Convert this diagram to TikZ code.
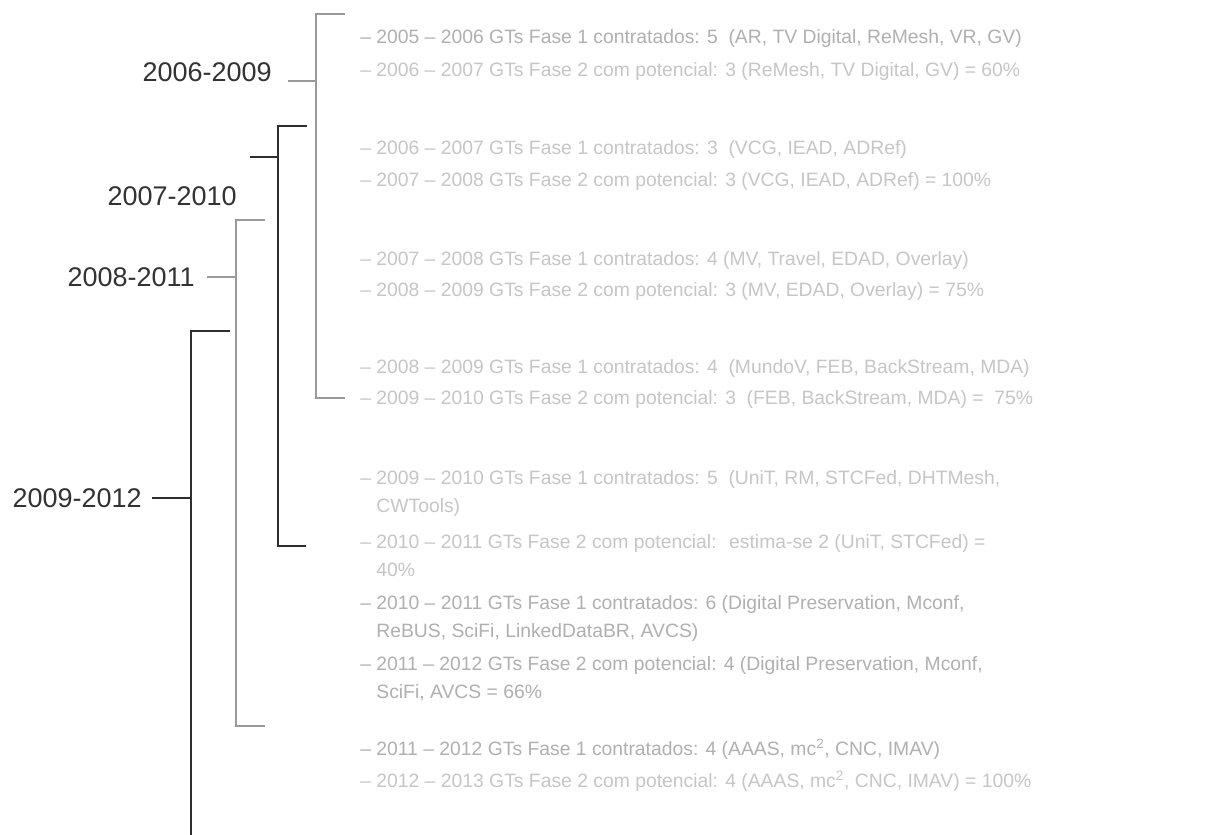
\documentclass[tikz,border=0pt]{standalone}
\usepackage{fontspec}
\setmainfont{Liberation Sans}
\definecolor{txt}{HTML}{C6C6C6}
\definecolor{txtd}{HTML}{B0B0B0}
\definecolor{lbl}{HTML}{333333}
\definecolor{brgray}{HTML}{9A9A9A}
\definecolor{brdark}{HTML}{2E2E2E}
\begin{document}
\begin{tikzpicture}[x=0.75pt,y=-0.75pt,
  item/.style={anchor=west, inner sep=0pt, text=txt, font=\fontsize{14.5}{21}\selectfont, align=left},
  itemd/.style={item, text=txtd},
  period/.style={anchor=east, inner sep=0pt, text=lbl, font=\fontsize{20.25}{24}\selectfont},
  brlight/.style={draw=brgray, line width=0.8pt},
  brdk/.style={draw=brdark, line width=1pt}]
\useasboundingbox[fill=white] (0,0) rectangle (1211,835);
\newcommand{\ind}{\phantom{\textendash\ }}

% text items
\node[itemd] (t1) at (360,39) {\textendash\ 2005 \textendash\ 2006 GTs Fase 1 contratados: 5 \ (AR, TV Digital, ReMesh, VR, GV)};
\node[item] (t2) at (360,72) {\textendash\ 2006 \textendash\ 2007 GTs Fase 2 com potencial: 3 (ReMesh, TV Digital, GV) = 60\%};
\node[item] (t3) at (360,149) {\textendash\ 2006 \textendash\ 2007 GTs Fase 1 contratados: 3 \ (VCG, IEAD, ADRef)};
\node[item] (t4) at (360,181) {\textendash\ 2007 \textendash\ 2008 GTs Fase 2 com potencial: 3 (VCG, IEAD, ADRef) = 100\%};
\node[item] (t5) at (360,260) {\textendash\ 2007 \textendash\ 2008 GTs Fase 1 contratados: 4 (MV, Travel, EDAD, Overlay)};
\node[item] (t6) at (360,291) {\textendash\ 2008 \textendash\ 2009 GTs Fase 2 com potencial: 3 (MV, EDAD, Overlay) = 75\%};
\node[item] (t7) at (360,368) {\textendash\ 2008 \textendash\ 2009 GTs Fase 1 contratados: 4 \ (MundoV, FEB, BackStream, MDA)};
\node[item] (t8) at (360,399) {\textendash\ 2009 \textendash\ 2010 GTs Fase 2 com potencial: 3 \ (FEB, BackStream, MDA) = \ 75\%};
\node[item] (t9) at (360,493) {\textendash\ 2009 \textendash\ 2010 GTs Fase 1 contratados: 5 \ (UniT, RM, STCFed, DHTMesh,\\\ind CWTools)};
\node[item] (t10) at (360,556) {\textendash\ 2010 \textendash\ 2011 GTs Fase 2 com potencial: \ estima-se 2 (UniT, STCFed) =\\\ind 40\%};
\node[itemd] (t11) at (360,618) {\textendash\ 2010 \textendash\ 2011 GTs Fase 1 contratados: 6 (Digital Preservation, Mconf,\\\ind ReBUS, SciFi, LinkedDataBR, AVCS)};
\node[itemd] (t12) at (360,679) {\textendash\ 2011 \textendash\ 2012 GTs Fase 2 com potencial: 4 (Digital Preservation, Mconf,\\\ind SciFi, AVCS = 66\%};
\node[itemd] (t13) at (360,749) {\textendash\ 2011 \textendash\ 2012 GTs Fase 1 contratados: 4 (AAAS, mc\textsuperscript{2}, CNC, IMAV)};
\node[item] (t14) at (360,781) {\textendash\ 2012 \textendash\ 2013 GTs Fase 2 com potencial: 4 (AAAS, mc\textsuperscript{2}, CNC, IMAV) = 100\%};

% period labels
\node[period] (p1) at (272,72) {2006-2009};
\node[period] (p2) at (237,196) {2007-2010};
\node[period] (p3) at (195,277) {2008-2011};
\node[period] (p4) at (142,498) {2009-2012};

% bracket coordinates
\coordinate (b1a) at (345,14);  \coordinate (b1b) at (316,14);
\coordinate (b1c) at (316,398); \coordinate (b1d) at (345,398);
\coordinate (c1) at (288,81);   \coordinate (j1) at (316,81);

\coordinate (b2a) at (307,126); \coordinate (b2b) at (278,126);
\coordinate (b2c) at (278,546); \coordinate (b2d) at (306,546);
\coordinate (c2) at (250,157);  \coordinate (j2) at (278,157);

\coordinate (b3a) at (265,220); \coordinate (b3b) at (236,220);
\coordinate (b3c) at (236,726); \coordinate (b3d) at (265,726);
\coordinate (c3) at (207,277);  \coordinate (j3) at (236,277);

\coordinate (b4a) at (230,331); \coordinate (b4b) at (191,331);
\coordinate (b4c) at (191,835);
\coordinate (c4) at (152,498);  \coordinate (j4) at (191,498);

% brackets
\draw[brlight] (b1a) -- (b1b) -- (b1c) -- (b1d);
\draw[brlight] (c1) -- (j1);
\draw[brdk] (b2a) -- (b2b) -- (b2c) -- (b2d);
\draw[brdk] (c2) -- (j2);
\draw[brlight] (b3a) -- (b3b) -- (b3c) -- (b3d);
\draw[brlight] (c3) -- (j3);
\draw[brdk] (b4a) -- (b4b) -- (b4c);
\draw[brdk] (c4) -- (j4);
\end{tikzpicture}
\end{document}
